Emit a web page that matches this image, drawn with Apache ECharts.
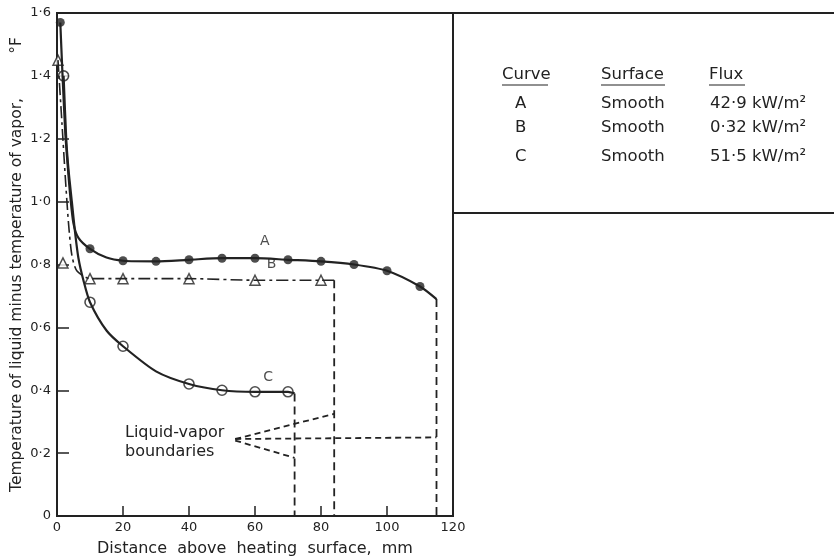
<!DOCTYPE html>
<html>
<head>
<meta charset="utf-8">
<script src="https://cdn.jsdelivr.net/npm/echarts@6/dist/echarts.min.js"></script>
<style>
html, body { margin: 0; padding: 0; background: #fff; }
#chart { width: 834px; height: 557px; }
</style>
</head>
<body>
<div id="chart"></div>
<script>
// axis ticks
var xTicks = [0, 20, 40, 60, 80, 100, 120];
var yTicks = [0, 0.2, 0.4, 0.6, 0.8, 1.0, 1.2, 1.4, 1.6];

// curve A (42.9 kW/m2): path + measured points
var curveA = [[1, 1.57], [1.6, 1.42], [2.5, 1.22], [3.2, 1.12], [4, 1.02], [5, 0.93], [6.5, 0.885], [10, 0.85], [15, 0.822], [20, 0.812], [30, 0.81], [40, 0.815], [50, 0.82], [60, 0.82], [70, 0.815], [80, 0.81], [90, 0.80], [100, 0.78], [110, 0.73], [115, 0.69]];
var pointsA = [[1, 1.57], [10, 0.85], [20, 0.812], [30, 0.81], [40, 0.815], [50, 0.82], [60, 0.82], [70, 0.815], [80, 0.81], [90, 0.80], [100, 0.78], [110, 0.73]];

// curve B (0.32 kW/m2)
var curveB = [[0.3, 1.45], [1.5, 1.25], [2.5, 1.08], [3.5, 0.93], [4.5, 0.83], [6, 0.78], [10, 0.755], [20, 0.755], [40, 0.755], [60, 0.75], [80, 0.75], [84, 0.75]];
var pointsB = [[0.3, 1.45], [1.8, 0.805], [10, 0.755], [20, 0.755], [40, 0.755], [60, 0.75], [80, 0.75]];

// curve C (51.5 kW/m2)
var curveC = [[2, 1.40], [2.8, 1.2], [3.5, 1.1], [4.5, 1.0], [5.5, 0.9], [6.5, 0.82], [8, 0.75], [10, 0.68], [15, 0.59], [20, 0.54], [30, 0.46], [40, 0.42], [50, 0.40], [60, 0.395], [70, 0.395], [72, 0.39]];
var pointsC = [[2, 1.40], [10, 0.68], [20, 0.54], [40, 0.42], [50, 0.40], [60, 0.395], [70, 0.395]];

// liquid-vapor boundaries (vertical drops and pointer lines)
var dropA = [[115, 0.69], [115, 0]];
var dropB = [[84, 0.75], [84, 0]];
var dropC = [[72, 0.39], [72, 0]];
var pointerUpper = [[54, 0.245], [84, 0.325]];
var pointerMid = [[54, 0.245], [115, 0.25]];
var pointerLower = [[54, 0.24], [72, 0.185]];

// table
var tableCurves = ['A', 'B', 'C'];
var tableSurfaces = ['Smooth', 'Smooth', 'Smooth'];
var tableFlux = ['42·9', '0·32', '51·5'];

var ink = '#222';
var font = 'DejaVu Sans';

function fmt(v) {
    if (v === 0) return '0';
    return v.toFixed(1).replace('.', '·');
}

function dashed(data, dash) {
    return {
        type: 'line', data: data, symbol: 'none', silent: true,
        lineStyle: { color: ink, width: 1.8, type: dash }
    };
}

function curveLabel(text, pt) {
    return {
        type: 'scatter', data: [pt], symbolSize: 0, silent: true,
        label: { show: true, formatter: text, position: 'inside', color: ink, fontFamily: font, fontSize: 14 }
    };
}

var chart = echarts.init(document.getElementById('chart'));

var tableFont = '16.5px "' + font + '"';
var graphics = [
    // top rule and table frame
    { type: 'line', shape: { x1: 453, y1: 13, x2: 834, y2: 13 }, style: { stroke: ink, lineWidth: 2 } },
    { type: 'line', shape: { x1: 453, y1: 213, x2: 834, y2: 213 }, style: { stroke: ink, lineWidth: 2 } },
    { type: 'text', left: 125, top: 423, style: { text: 'Liquid-vapor\nboundaries', fill: ink, font: '16px "' + font + '"', lineHeight: 19 } }
];

var headers = [['Curve', 502, 46], ['Surface', 601, 64], ['Flux', 709, 36]];
headers.forEach(function (h) {
    graphics.push({ type: 'text', left: h[1], top: 66, style: { text: h[0], fill: ink, font: tableFont } });
    graphics.push({ type: 'line', shape: { x1: h[1], y1: 85, x2: h[1] + h[2], y2: 85 }, style: { stroke: ink, lineWidth: 1.2 } });
});
var rowY = [95, 119, 148];
tableCurves.forEach(function (c, i) {
    graphics.push({ type: 'text', left: 515, top: rowY[i], style: { text: c, fill: ink, font: tableFont } });
    graphics.push({ type: 'text', left: 601, top: rowY[i], style: { text: tableSurfaces[i], fill: ink, font: tableFont } });
    graphics.push({ type: 'text', left: 710, top: rowY[i], style: { text: tableFlux[i] + ' kW/m²', fill: ink, font: tableFont } });
});

var option = {
    backgroundColor: '#fff',
    animation: false,
    grid: { left: 57, right: 381, top: 13, bottom: 41, show: true, borderColor: ink, borderWidth: 2, outerBoundsMode: 'none', containLabel: false },
    xAxis: {
        type: 'value', min: xTicks[0], max: xTicks[xTicks.length - 1], interval: 20,
        name: 'Distance  above  heating  surface,  mm',
        nameLocation: 'middle', nameGap: 25,
        nameTextStyle: { color: ink, fontFamily: font, fontSize: 16 },
        axisLine: { lineStyle: { color: ink, width: 2 } },
        axisTick: { inside: true, length: 10, lineStyle: { color: ink, width: 1.5 } },
        axisLabel: { color: ink, fontFamily: font, fontSize: 13, margin: 5 },
        splitLine: { show: false }
    },
    yAxis: {
        type: 'value', min: yTicks[0], max: yTicks[yTicks.length - 1], interval: 0.2,
        name: 'Temperature of liquid minus temperature of vapor,         °F',
        nameLocation: 'middle', nameGap: 32, nameRotate: 90,
        nameTextStyle: { color: ink, fontFamily: font, fontSize: 15.5 },
        axisLine: { lineStyle: { color: ink, width: 2 } },
        axisTick: { inside: true, length: 12, lineStyle: { color: ink, width: 1.5 } },
        axisLabel: { color: ink, fontFamily: font, fontSize: 13, margin: 6, formatter: fmt },
        splitLine: { show: false }
    },
    graphic: graphics,
    series: [
        { type: 'line', data: curveA, smooth: 0.25, symbol: 'none', lineStyle: { color: ink, width: 2.2 } },
        { type: 'scatter', data: pointsA, symbol: 'circle', symbolSize: 9, itemStyle: { color: ink } },
        { type: 'line', data: curveB, smooth: 0.25, symbol: 'none', lineStyle: { color: ink, width: 1.6, type: [12, 4, 3, 4] } },
        { type: 'scatter', data: pointsB, symbol: 'triangle', symbolSize: 10, itemStyle: { color: '#fff', borderColor: ink, borderWidth: 1.5 } },
        { type: 'line', data: curveC, smooth: 0.25, symbol: 'none', lineStyle: { color: ink, width: 2.2 } },
        { type: 'scatter', data: pointsC, symbol: 'circle', symbolSize: 10, itemStyle: { color: '#fff', borderColor: ink, borderWidth: 1.6 } },
        dashed(dropA, [8, 5]),
        dashed(dropB, [8, 5]),
        dashed(dropC, [8, 5]),
        dashed(pointerUpper, [6, 4]),
        dashed(pointerMid, [6, 4]),
        dashed(pointerLower, [6, 4]),
        curveLabel('A', [63, 0.875]),
        curveLabel('B', [65, 0.8]),
        curveLabel('C', [64, 0.44])
    ]
};
chart.setOption(option);
</script>
</body>
</html>
